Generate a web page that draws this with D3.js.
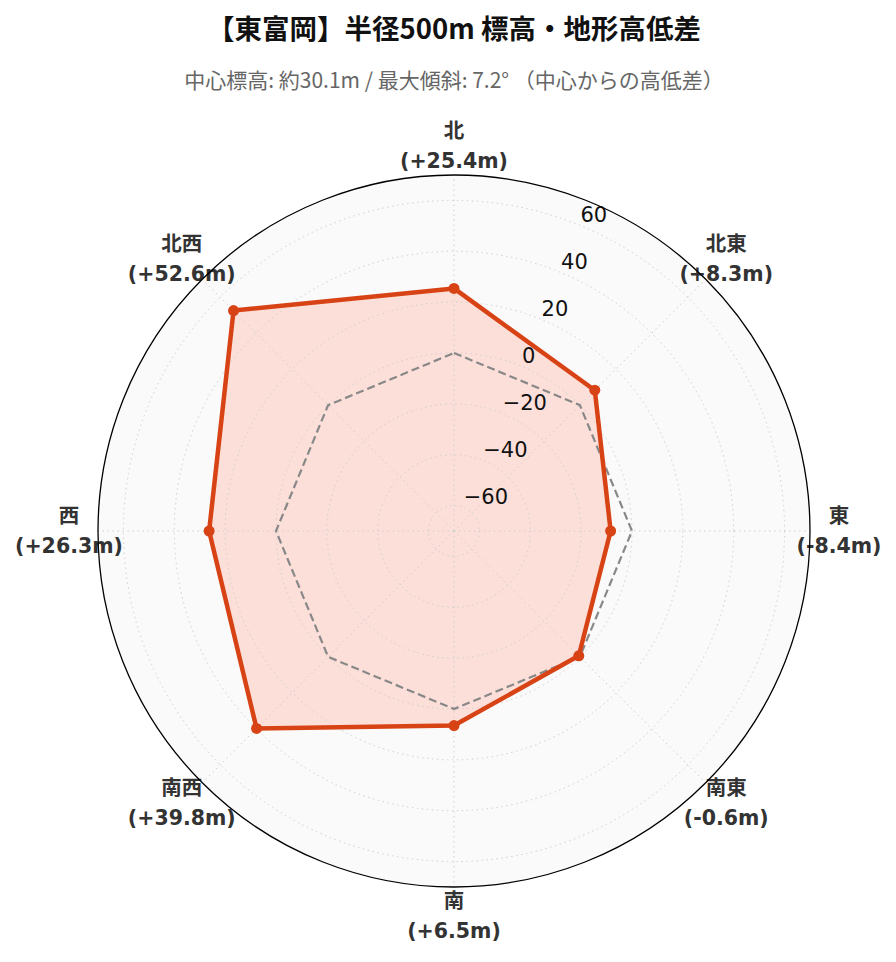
<!DOCTYPE html>
<html><head><meta charset="utf-8">
<script src="https://cdn.jsdelivr.net/npm/d3@7"></script>
<style>body{margin:0;background:#fff;}svg{display:block;}</style>
</head><body>
<svg id="c" width="896" height="962"></svg>
<script>
const directions = ["北","北東","東","南東","南","南西","西","北西"];
const values = [25.4, 8.3, -8.4, -0.6, 6.5, 39.8, 26.3, 52.6];
const refValues = [0,0,0,0,0,0,0,0];
const rTicks = [-60,-40,-20,0,20,40,60];
const rDomain = [-70, 70];
const title = "【東富岡】半径500m 標高・地形高低差";
const subtitle = "中心標高: 約30.1m / 最大傾斜: 7.2° （中心からの高低差）";

const svg = d3.select("#c");
const cx = 454, cy = 531, R = 356;
const font = "'DejaVu Sans','Noto Sans CJK JP',sans-serif";
const cjk = "'Noto Sans CJK JP',sans-serif";
const r = d3.scaleLinear().domain(rDomain).range([0, R]);
const ang = d3.scaleLinear().domain([0, directions.length]).range([0, 2*Math.PI]);
const g = svg.append("g").attr("transform", `translate(${cx},${cy})`);
const pt = (a, rr) => [rr*Math.sin(a), -rr*Math.cos(a)];

// title
svg.append("text").attr("x", 454).attr("y", 39).attr("text-anchor","middle")
  .attr("font-family",cjk).attr("font-weight","bold")
  .attr("font-size",27.5).attr("fill","#111").text(title);
svg.append("text").attr("x", 454).attr("y", 88).attr("text-anchor","middle")
  .attr("font-family",cjk)
  .attr("font-size",21).attr("fill","#666").text(subtitle);

// background
g.append("circle").attr("r", R).attr("fill","#fafafa");

// direction labels (drawn beneath outer circle)
const lab = g.append("g");
directions.forEach((d,i)=>{
  const [x,y] = pt(ang(i), 385);
  const v = values[i];
  const vs = (v>=0?"+":"") + v.toFixed(1) + "m";
  lab.append("text").attr("x",x).attr("y",y-15).attr("dy","0.35em")
    .attr("text-anchor","middle").attr("font-family",font).attr("font-weight","bold")
    .attr("font-size",20.5).attr("fill","#333").text(d);
  lab.append("text").attr("x",x).attr("y",y+15).attr("dy","0.35em")
    .attr("text-anchor","middle").attr("font-family",font).attr("font-weight","bold")
    .attr("font-size",20.5).attr("fill","#333").text("(" + vs + ")");
});

// data fill
const line = d3.lineRadial().angle((d,i)=>ang(i)).radius(d=>r(d)).curve(d3.curveLinearClosed);
g.append("path").attr("d", line(values)).attr("fill","#fcd6cd").attr("fill-opacity",0.75).attr("stroke","none");

// grid
g.selectAll(".gc").data(rTicks).join("circle").attr("r", d=>r(d))
  .attr("fill","none").attr("stroke","#cfcfcf").attr("stroke-width",1).attr("stroke-dasharray","1.5,3.5");
directions.forEach((d,i)=>{
  const [x,y] = pt(ang(i), R);
  g.append("line").attr("x1",0).attr("y1",0).attr("x2",x).attr("y2",y)
    .attr("stroke","#cfcfcf").attr("stroke-width",1).attr("stroke-dasharray","1.5,3.5");
});

// reference dashed
g.append("path").attr("d", line(refValues)).attr("fill","none")
  .attr("stroke","#888").attr("stroke-width",2.2).attr("stroke-dasharray","8,4");

// data line
g.append("path").attr("d", line(values)).attr("fill","none")
  .attr("stroke","#d84315").attr("stroke-width",4.5).attr("stroke-linejoin","round");
values.forEach((v,i)=>{
  const [x,y] = pt(ang(i), r(v));
  g.append("circle").attr("cx",x).attr("cy",y).attr("r",5.5).attr("fill","#d84315");
});

// r tick labels
const la = Math.PI/8;
rTicks.forEach(t=>{
  const [x,y] = pt(la, r(t));
  g.append("text").attr("x",x).attr("y",y-4).attr("font-family",font)
    .attr("font-size",21).attr("fill","#111").text(t<0 ? "\u2212"+Math.abs(t) : String(t));
});

// outer circle
g.append("circle").attr("r", R).attr("fill","none").attr("stroke","#000").attr("stroke-width",1.3);
</script>
</body></html>
